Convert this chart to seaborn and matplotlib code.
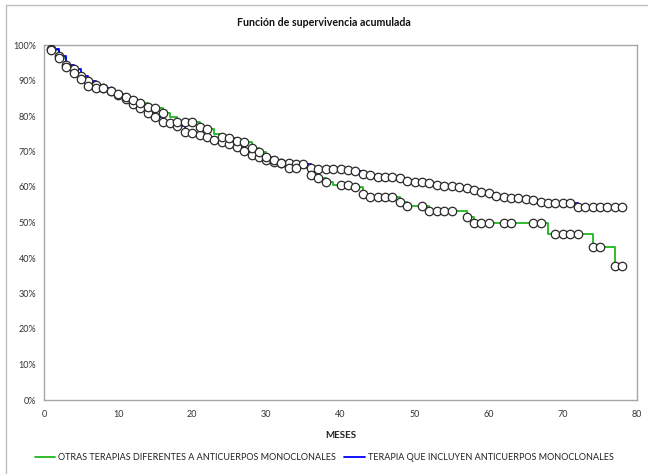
import numpy as np
import pandas as pd
import matplotlib
matplotlib.use('Agg')
import matplotlib.pyplot as plt
import seaborn as sns
from matplotlib.ticker import PercentFormatter, MultipleLocator
from matplotlib.lines import Line2D

# Datos (supervivencia en %, por mes)
meses = list(range(0, 79))

otras_surv = [100.0, 98.6, 96.3, 93.8, 92.2, 90.3, 88.5, 88.0, 87.8, 87.0,
              86.2, 85.3, 84.5, 83.6, 82.6, 82.2, 80.9, 79.8, 78.4, 78.4,
              78.4, 77.0, 76.3, 74.8, 74.2, 73.7, 73.0, 72.8, 71.0, 70.0,
              68.5, 67.5, 66.8, 65.4, 65.4, 65.4, 63.4, 62.4, 61.5, 60.6,
              60.6, 60.6, 60.1, 58.0, 57.1, 57.1, 57.1, 57.1, 55.9, 54.6,
              54.6, 54.6, 53.3, 53.3, 53.3, 53.3, 53.3, 51.6, 49.9, 49.9,
              49.9, 49.9, 49.9, 49.9, 49.9, 49.9, 49.9, 49.9, 46.9, 46.9,
              46.9, 46.9, 46.9, 46.9, 43.0, 43.0, 43.0, 37.7, 37.7]

anti_surv = [100.0, 98.8, 96.8, 94.5, 93.3, 91.3, 90.0, 88.8, 88.0, 87.0,
             86.0, 84.8, 83.3, 82.2, 80.9, 79.6, 78.4, 77.9, 77.2, 75.6,
             75.1, 74.6, 74.0, 73.2, 72.8, 72.1, 71.4, 70.2, 69.0, 68.5,
             67.6, 67.1, 66.8, 66.7, 66.6, 66.5, 65.3, 65.2, 65.1, 65.0,
             65.0, 64.9, 64.6, 63.8, 63.4, 62.8, 62.8, 62.8, 62.5, 61.8,
             61.5, 61.3, 61.0, 60.6, 60.3, 60.3, 60.0, 59.6, 59.2, 58.7,
             58.4, 57.5, 57.3, 56.8, 56.8, 56.6, 56.3, 55.9, 55.6, 55.6,
             55.6, 55.4, 54.3, 54.3, 54.3, 54.3, 54.3, 54.3, 54.3]

# meses sin casos censurados (sin círculo)
otras_sin_censura = [0, 17, 23, 35, 39, 50, 56, 61, 64, 65, 68, 73, 76]
anti_sin_censura = [0]

lbl_otras = 'OTRAS TERAPIAS DIFERENTES A ANTICUERPOS MONOCLONALES'
lbl_anti = 'TERAPIA QUE INCLUYEN ANTICUERPOS MONOCLONALES'

df_otras = pd.DataFrame({'mes': meses, 'surv': otras_surv})
df_anti = pd.DataFrame({'mes': meses, 'surv': anti_surv})
cens_otras = df_otras[~df_otras['mes'].isin(otras_sin_censura)]
cens_anti = df_anti[~df_anti['mes'].isin(anti_sin_censura)]

sns.set_theme(style='white')
plt.rcParams['font.family'] = ['Lato', 'DejaVu Sans']

verde = '#1fb81f'
azul = '#0000ff'
gris = '#a6a6a6'
texto = '#333333'

fig = plt.figure(figsize=(6.48, 4.74), dpi=100)
ax = fig.add_axes([44 / 648, 74 / 474, 593 / 648, 355 / 474])

sns.lineplot(data=df_otras, x='mes', y='surv', ax=ax, color=verde, lw=1.3,
             drawstyle='steps-post', zorder=2, label=lbl_otras)
sns.lineplot(data=df_anti, x='mes', y='surv', ax=ax, color=azul, lw=1.3,
             drawstyle='steps-post', zorder=2, label=lbl_anti)

for cens in (cens_anti, cens_otras):
    sns.scatterplot(data=cens, x='mes', y='surv', ax=ax, marker='o', s=37,
                    facecolor='white', edgecolor='#2a2a2a', linewidth=0.9,
                    zorder=3, legend=False)

ax.set_xlim(0, 80)
ax.set_ylim(0, 100)
ax.xaxis.set_major_locator(MultipleLocator(10))
ax.yaxis.set_major_locator(MultipleLocator(10))
ax.yaxis.set_major_formatter(PercentFormatter(100, decimals=0))
ax.tick_params(axis='both', direction='inout', length=5, width=0.8, color=gris,
               labelsize=6.5, labelcolor=texto, pad=3)
ax.tick_params(axis='x', pad=5)
for sp in ax.spines.values():
    sp.set_color(gris)
    sp.set_linewidth(1.0)
ax.set_xlabel('MESES', fontsize=7, fontweight='bold', color='#222222', labelpad=8)
ax.set_ylabel('')

fig.text(0.5, 1 - 22 / 474, 'Función de supervivencia acumulada', ha='center', va='center',
         fontsize=7.7, fontweight='bold', color='#111111')

handles = [Line2D([0], [0], color=verde, lw=1.3), Line2D([0], [0], color=azul, lw=1.3)]
ax.legend(handles, [lbl_otras, lbl_anti], loc='center', bbox_to_anchor=(0.5, 1 - 458 / 474),
          bbox_transform=fig.transFigure, ncol=2, frameon=False, fontsize=6.5,
          handlelength=2.3, handletextpad=0.3, columnspacing=0.9, labelcolor='#222222')

# marco exterior del gráfico
fig.add_artist(Line2D([6 / 648, 1], [1 - 5 / 474, 1 - 5 / 474], color='#bfbfbf', lw=1.0,
                      transform=fig.transFigure))
fig.add_artist(Line2D([6 / 648, 6 / 648], [0, 1 - 5 / 474], color='#bfbfbf', lw=1.0,
                      transform=fig.transFigure))

fig.savefig('out.png', dpi=100)
